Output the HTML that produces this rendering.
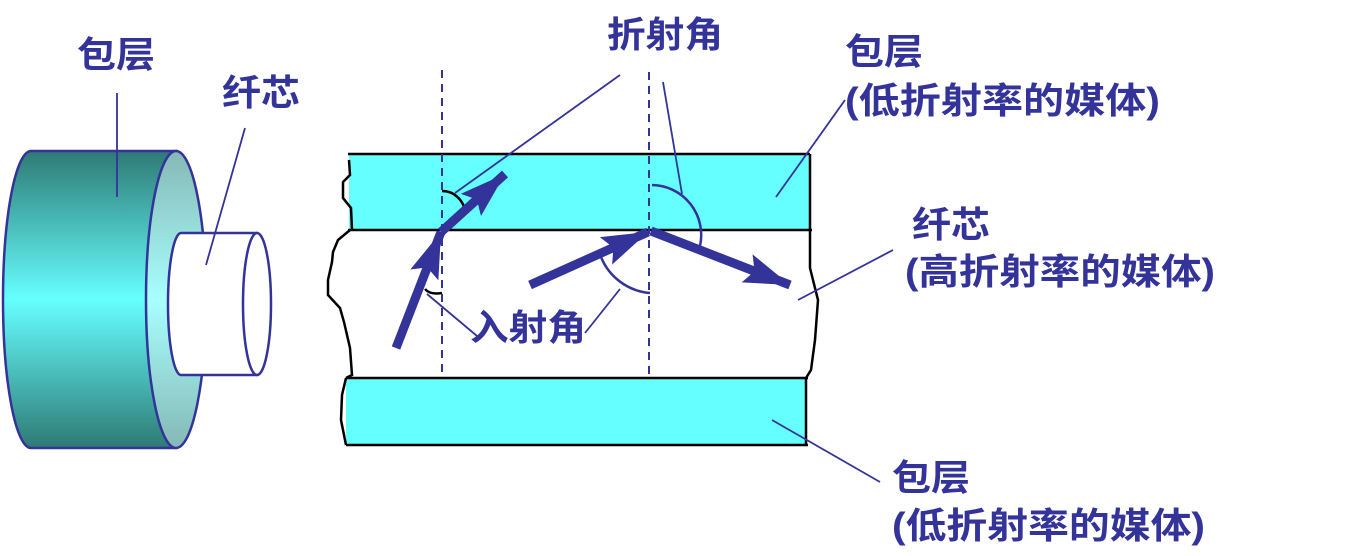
<!DOCTYPE html>
<html><head><meta charset="utf-8"><style>html,body{margin:0;padding:0;background:#fff}svg{display:block}</style></head>
<body>
<svg width="1368" height="556" viewBox="0 0 1368 556" xmlns="http://www.w3.org/2000/svg">
<defs>
<linearGradient id="g1" x1="0" y1="0" x2="0" y2="1">
<stop offset="0" stop-color="#2e7a75"/><stop offset="0.5" stop-color="#66ffff"/><stop offset="1" stop-color="#2e7a75"/>
</linearGradient>
<linearGradient id="g2" x1="0" y1="0" x2="0" y2="1">
<stop offset="0" stop-color="#85b8b5"/><stop offset="0.5" stop-color="#a8ffff"/><stop offset="1" stop-color="#85b8b5"/>
</linearGradient>
<marker id="ah" markerUnits="userSpaceOnUse" markerWidth="50" markerHeight="36" refX="46" refY="15" orient="auto">
<path d="M0,0 L46,15 L0,30 L8,15 Z" fill="#333399"/>
</marker>
</defs>
<g stroke="#333399" stroke-width="2.5">
<path d="M31,151 L176,151 L176,448 L31,448 A28,148.5 0 0 1 31,151 Z" fill="url(#g1)"/>
<ellipse cx="176" cy="299.5" rx="30" ry="148.5" fill="url(#g2)"/>
<path d="M181,233 L257,233 L257,375 L181,375 A13,71 0 0 1 181,233 Z" fill="#fff"/>
<ellipse cx="257" cy="304" rx="14" ry="71" fill="#fff"/>
</g>
<g fill="#66ffff" stroke="none">
<rect x="349" y="155" width="460" height="75"/>
<rect x="346" y="378" width="460" height="67"/>
</g>
<g stroke="#000" stroke-width="2.5" fill="none">
<line x1="348" y1="154" x2="810" y2="154"/>
<line x1="348" y1="230" x2="812" y2="230"/>
<line x1="346" y1="378" x2="808" y2="378"/>
<line x1="346" y1="445" x2="808" y2="445"/>
<line x1="810" y1="154" x2="810" y2="230"/>
<line x1="806" y1="378" x2="806" y2="445"/>
<path d="M349,160 L350,175 L343,182 L343,198 L351,208 L352,230"/>
<path d="M350,230 L338,240 L333,252 L332,262 L328,280 L328,295 L340,308 L344,322 L350,348 L352,375 L346,378"/>
<path d="M346,378 L342,395 L341,420 L346,445"/>
<path d="M810,230 L810,268 L818,300 L815,340 L811,370 L806,378"/>
<path d="M442,191 A23,23 0 0 1 465,213"/>
<path d="M425,289 Q430,295 442,293"/>
</g>
<g stroke="#333399" stroke-width="2" stroke-dasharray="8,6">
<line x1="442" y1="70" x2="442" y2="372"/>
<line x1="649" y1="72" x2="649" y2="376"/>
</g>
<g stroke="#333399" stroke-width="1.8" fill="none">
<line x1="117" y1="93" x2="117" y2="197"/>
<line x1="245" y1="128" x2="206" y2="265"/>
<line x1="620" y1="75" x2="455" y2="193"/>
<line x1="663" y1="82" x2="682" y2="194"/>
<line x1="845" y1="100" x2="776" y2="197"/>
<line x1="893" y1="250" x2="798" y2="300"/>
<line x1="772" y1="420" x2="880" y2="482"/>
<line x1="427" y1="294" x2="477" y2="336"/>
<line x1="620" y1="289" x2="585" y2="333"/>
</g>
<g stroke="#333399" stroke-width="2.5" fill="none">
<path d="M652,185 A50,50 0 0 1 700,246"/>
<path d="M601,257 A58,58 0 0 0 650,293"/>
</g>
<g stroke="#333399" stroke-width="9" fill="none" marker-end="url(#ah)">
<line x1="396" y1="348" x2="441" y2="232"/>
<line x1="441" y1="232" x2="505" y2="174"/>
<line x1="530" y1="285" x2="648" y2="232"/>
<line x1="651" y1="231" x2="790" y2="285"/>
</g>
<g fill="#333399" font-family="'Liberation Sans','Noto Sans CJK SC',sans-serif" font-weight="bold" font-size="36">
<text x="77" y="67" textLength="78" lengthAdjust="spacingAndGlyphs">包层</text>
<text x="222" y="105" textLength="78" lengthAdjust="spacingAndGlyphs">纤芯</text>
<text x="607" y="47" textLength="116" lengthAdjust="spacingAndGlyphs">折射角</text>
<text x="470" y="340" textLength="116" lengthAdjust="spacingAndGlyphs">入射角</text>
<text x="845" y="64" textLength="78" lengthAdjust="spacingAndGlyphs">包层</text>
<text x="845" y="113" textLength="315" lengthAdjust="spacingAndGlyphs">(低折射率的媒体)</text>
<text x="912" y="237" textLength="78" lengthAdjust="spacingAndGlyphs">纤芯</text>
<text x="905" y="284" textLength="310" lengthAdjust="spacingAndGlyphs">(高折射率的媒体)</text>
<text x="892" y="490" textLength="78" lengthAdjust="spacingAndGlyphs">包层</text>
<text x="892" y="538" textLength="313" lengthAdjust="spacingAndGlyphs">(低折射率的媒体)</text>
</g>
</svg>
</body></html>
